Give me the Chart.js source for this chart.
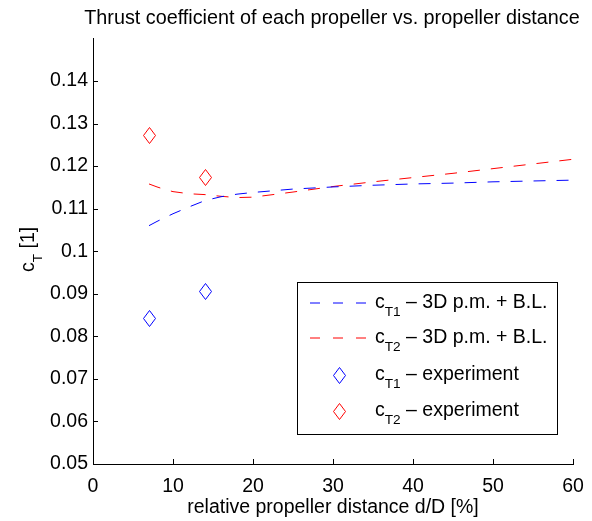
<!DOCTYPE html>
<html><head><meta charset="utf-8">
<script src="https://cdn.jsdelivr.net/npm/chart.js@4.4.0/dist/chart.umd.min.js"></script>
<style>html,body{margin:0;padding:0;background:#fff;}</style>
</head><body>
<canvas id="c" width="592" height="521"></canvas>
<script>
// ---- data ----
const distance  = [7, 8, 9, 10, 12, 14, 16, 18, 20, 25, 30, 35, 40, 45, 50, 55, 60];
const cT1Model  = [0.1060, 0.1070, 0.1079, 0.1088, 0.1104, 0.1119, 0.1128, 0.1134, 0.1138, 0.1146, 0.1151, 0.1155, 0.1158, 0.1160, 0.1163, 0.1165, 0.1167];
const cT2Model  = [0.1158, 0.1151, 0.1145, 0.1140, 0.1135, 0.1133, 0.1129, 0.1126, 0.1127, 0.1139, 0.1152, 0.1163, 0.1173, 0.1183, 0.1194, 0.1205, 0.1216];
const expDistance = [7, 14];
const cT1Exp    = [0.0843, 0.0906];
const cT2Exp    = [0.1273, 0.1172];
const xTicks    = [0, 10, 20, 30, 40, 50, 60];
const yTicks    = [0.05, 0.06, 0.07, 0.08, 0.09, 0.10, 0.11, 0.12, 0.13, 0.14];
const titleText = 'Thrust coefficient of each propeller vs. propeller distance';
const xLabel    = 'relative propeller distance d/D [%]';
const yLabel    = ['c', 'T', ' [1]'];
const legendLabels = [
  ['c', 'T1', ' \u2013 3D p.m. + B.L.'],
  ['c', 'T2', ' \u2013 3D p.m. + B.L.'],
  ['c', 'T1', ' \u2013 experiment'],
  ['c', 'T2', ' \u2013 experiment']
];

const FONT = '"Liberation Sans", Arial, Helvetica, sans-serif';
const FS = 19.5;
const BLUE = '#0000ff', RED = '#ff0000';

function diamond(color) {
  const c = document.createElement('canvas');
  c.width = 13; c.height = 17;
  const g = c.getContext('2d');
  g.strokeStyle = color; g.lineWidth = 1;
  g.beginPath();
  g.moveTo(6.5, 0.5); g.lineTo(12.5, 8.5); g.lineTo(6.5, 16.5); g.lineTo(0.5, 8.5);
  g.closePath(); g.stroke();
  return c;
}
const dBlue = diamond(BLUE), dRed = diamond(RED);

const pts = (xs, ys) => xs.map((x, i) => ({x: x, y: ys[i]}));

function subText(ctx, x, y, parts) {
  ctx.font = FS + 'px ' + FONT;
  ctx.fillText(parts[0], x, y);
  let w = ctx.measureText(parts[0]).width;
  ctx.font = (FS * 0.7) + 'px ' + FONT;
  ctx.fillText(parts[1], x + w, y + 8);
  w += ctx.measureText(parts[1]).width;
  ctx.font = FS + 'px ' + FONT;
  ctx.fillText(parts[2], x + w, y);
}

const extras = {
  id: 'extras',
  beforeDatasetsDraw(chart) { chart.ctx.imageSmoothingEnabled = false; },
  afterDraw(chart) {
    const ctx = chart.ctx, xs = chart.scales.x, ys = chart.scales.y;
    const a = chart.chartArea;
    ctx.save();
    ctx.strokeStyle = '#000'; ctx.lineWidth = 1;
    ctx.beginPath();
    yTicks.forEach(v => { const y = Math.round(ys.getPixelForValue(v)) + 0.5; ctx.moveTo(a.left, y); ctx.lineTo(a.left + 5, y); });
    xTicks.forEach(v => { const x = Math.round(xs.getPixelForValue(v)) + 0.5; ctx.moveTo(x, a.bottom); ctx.lineTo(x, a.bottom - 5); });
    ctx.stroke();

    // title
    ctx.fillStyle = '#000';
    ctx.font = '19.8px ' + FONT;
    ctx.textAlign = 'center';
    ctx.textBaseline = 'alphabetic';
    ctx.fillText(titleText, 332, 24);
    ctx.textAlign = 'left';

    // y-axis title
    ctx.translate(34, 272);
    ctx.rotate(-Math.PI / 2);
    subText(ctx, 0, 0, yLabel);
    ctx.setTransform(1, 0, 0, 1, 0, 0);

    // legend
    const bx = 297.5, by = 282.5, bw = 260, bh = 152;
    ctx.fillStyle = '#fff';
    ctx.fillRect(bx, by, bw, bh);
    ctx.strokeStyle = '#000';
    ctx.strokeRect(bx, by, bw, bh);
    const rowsY = [303, 338, 375, 411];
    const colors = [BLUE, RED];
    ctx.lineWidth = 1;
    for (let i = 0; i < 2; i++) {
      ctx.strokeStyle = colors[i];
      ctx.setLineDash([10, 13]);
      ctx.beginPath();
      ctx.moveTo(310, rowsY[i]); ctx.lineTo(369, rowsY[i]);
      ctx.stroke();
    }
    ctx.setLineDash([]);
    ctx.drawImage(dBlue, 333, rowsY[2] - 8);
    ctx.drawImage(dRed, 333, rowsY[3] - 8);
    ctx.fillStyle = '#000';
    legendLabels.forEach((p, i) => subText(ctx, 375, rowsY[i] + 5, p));
    ctx.restore();
  }
};

new Chart(document.getElementById('c'), {
  type: 'scatter',
  data: {
    datasets: [
      { label: 'cT1 model', data: pts(distance, cT1Model), showLine: true, borderColor: BLUE, borderWidth: 1, borderDash: [12, 11], pointRadius: 0, fill: false },
      { label: 'cT2 model', data: pts(distance, cT2Model), showLine: true, borderColor: RED, borderWidth: 1, borderDash: [12, 11], pointRadius: 0, fill: false },
      { label: 'cT1 experiment', data: pts(expDistance, cT1Exp), showLine: false, pointStyle: dBlue, pointRadius: 7 },
      { label: 'cT2 experiment', data: pts(expDistance, cT2Exp), showLine: false, pointStyle: dRed, pointRadius: 7 }
    ]
  },
  options: {
    responsive: false,
    animation: false,
    devicePixelRatio: 1,
    layout: { padding: { left: 0, right: 19, top: 38.4, bottom: 0 } },
    plugins: {
      legend: { display: false },
      tooltip: { enabled: false },
      title: { display: false }
    },
    scales: {
      x: {
        type: 'linear', min: 0, max: 60,
        afterBuildTicks: s => { s.ticks = xTicks.map(v => ({value: v})); },
        afterFit: s => { s.height = 57; s.paddingLeft = 0; s.paddingRight = 0; },
        grid: { display: true, drawOnChartArea: false, drawTicks: false },
        border: { display: true, color: '#000', width: 1 },
        ticks: { color: '#000', font: { family: FONT, size: FS }, padding: 11, maxRotation: 0 },
        title: { display: true, text: xLabel, color: '#000', font: { family: FONT, size: FS }, padding: { top: 0, bottom: 2 } }
      },
      y: {
        type: 'linear', min: 0.05, max: 0.15,
        afterBuildTicks: s => { s.ticks = yTicks.map(v => ({value: v})); },
        afterFit: s => { s.width = 93; s.paddingTop = 0; s.paddingBottom = 0; },
        grid: { display: true, drawOnChartArea: false, drawTicks: false },
        border: { display: true, color: '#000', width: 1 },
        ticks: { color: '#000', font: { family: FONT, size: FS }, padding: 5, callback: v => String(Number(v.toFixed(2))) }
      }
    }
  },
  plugins: [extras]
});
</script>
</body></html>
